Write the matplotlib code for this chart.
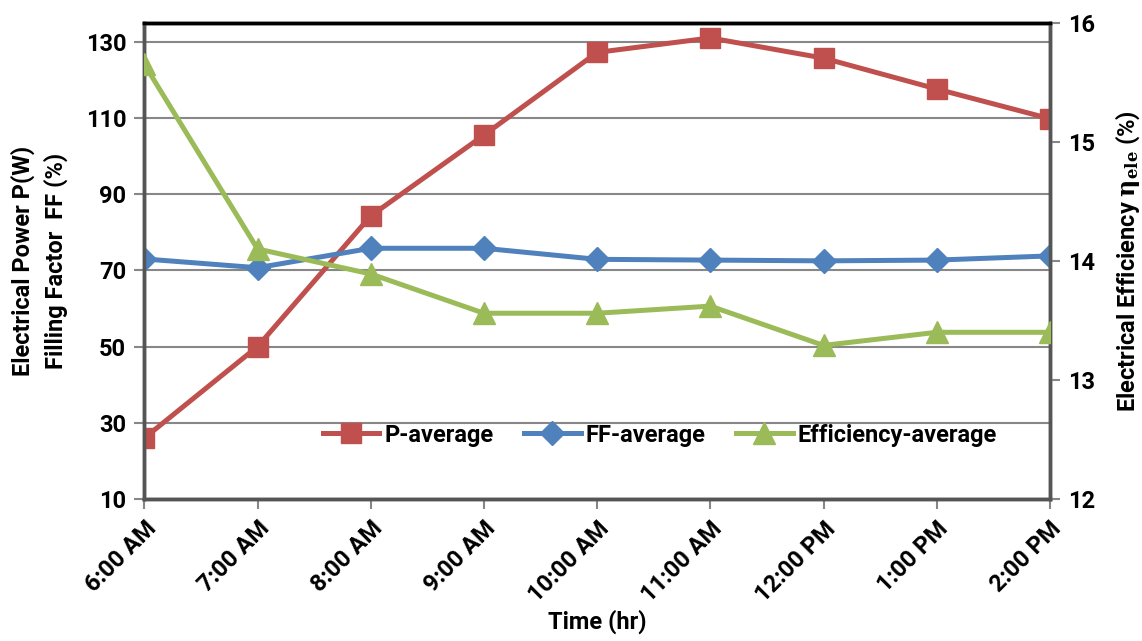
import matplotlib
matplotlib.use("Agg")
import matplotlib.pyplot as plt

# data
times = ["6:00 AM", "7:00 AM", "8:00 AM", "9:00 AM", "10:00 AM",
         "11:00 AM", "12:00 PM", "1:00 PM", "2:00 PM"]
p_avg = [26.0, 50.0, 84.3, 105.5, 127.2, 131.0, 125.7, 117.6, 109.8]
ff_avg = [73.0, 70.7, 75.8, 75.8, 72.9, 72.7, 72.5, 72.7, 73.8]
eff_avg = [15.65, 14.10, 13.89, 13.56, 13.56, 13.62, 13.29, 13.40, 13.40]

left_ticks = [10, 30, 50, 70, 90, 110, 130]
right_ticks = [12, 13, 14, 15, 16]

RED = "#C0504D"
BLUE = "#4F81BD"
GREEN = "#9BBB59"
GRID = "#878787"
FS = 17

plt.rcParams['font.family'] = ['Roboto', 'DejaVu Sans']
plt.rcParams['font.weight'] = 'bold'
plt.rcParams['mathtext.fontset'] = 'dejavuserif'

fig = plt.figure(figsize=(11.42, 6.41), dpi=100)
ax = fig.add_axes([0.1264, 0.2215, 0.7930, 0.7431])
ax2 = ax.twinx()

x = list(range(len(times)))
l1, = ax.plot(x, p_avg, color=RED, lw=3.6, marker='s', ms=14, label="P-average", zorder=4)
l2, = ax.plot(x, ff_avg, color=BLUE, lw=3.6, marker='D', ms=12, label="FF-average", zorder=4)
l3, = ax2.plot(x, eff_avg, color=GREEN, lw=3.6, marker='^', ms=16, label="Efficiency-average", zorder=4)

ax.set_xlim(0, len(times) - 1)
ax.set_ylim(10, 135)
ax.set_yticks(left_ticks)
ax2.set_ylim(12, 16)
ax2.set_yticks(right_ticks)

ax.yaxis.grid(True, color=GRID, lw=1.5)
ax.set_axisbelow(True)

ax.set_xticks(x)
ax.set_xticklabels(times, rotation=45, ha='right', rotation_mode='anchor',
                   fontsize=FS, fontweight='bold')
for a in (ax, ax2):
    a.tick_params(axis='both', direction='out', length=7, width=1.5, color=GRID,
                  labelsize=FS, pad=6)
    for s in ('left', 'right', 'bottom'):
        a.spines[s].set_color('#555555')
        a.spines[s].set_linewidth(2.5)
    a.spines['top'].set_color('black')
    a.spines['top'].set_linewidth(2.5)
for lab in ax.get_yticklabels() + ax2.get_yticklabels():
    lab.set_fontweight('bold')

ax.set_xlabel("Time (hr)", fontsize=FS, fontweight='bold', labelpad=2)
ax.set_ylabel("Electrical Power P(W)\nFilling Factor  FF (%)", fontsize=FS,
              fontweight='bold', linespacing=1.45)
ax.yaxis.set_label_coords(-0.084, 0.5)
ax2.set_ylabel(r"Electrical Efficiency $\mathbf{\eta}_{\mathbf{ele}}$ (%)",
               fontsize=FS, fontweight='bold')
ax2.yaxis.set_label_coords(1.07, 0.5)

ax2.set_zorder(ax.get_zorder() + 1)
ax2.patch.set_visible(False)

leg = ax2.legend([l1, l2, l3], [l.get_label() for l in (l1, l2, l3)],
                 loc='center', bbox_to_anchor=(0.569, 0.134), ncol=3,
                 frameon=False, fontsize=FS, handlelength=2.4,
                 handletextpad=0.2, columnspacing=1.3)
for t in leg.get_texts():
    t.set_fontweight('bold')

fig.savefig("out.png", dpi=100)
